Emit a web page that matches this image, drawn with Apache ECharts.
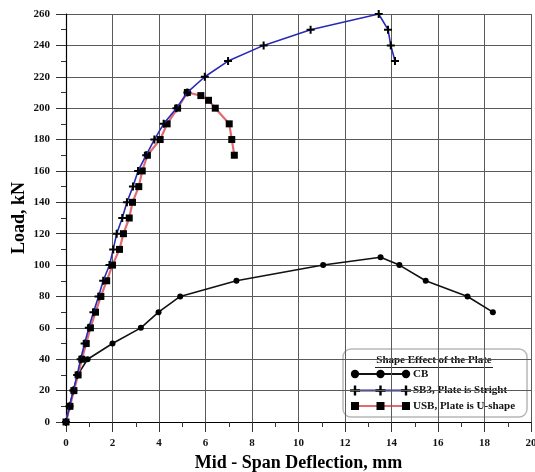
<!DOCTYPE html>
<html>
<head>
<meta charset="utf-8">
<script src="https://cdn.jsdelivr.net/npm/echarts@6/dist/echarts.min.js"></script>
<style>
  html, body { margin: 0; padding: 0; background: #fff; }
  #chart { width: 535px; height: 472px; }
</style>
</head>
<body>
<div id="chart"></div>
<script>
// Load–deflection curves for the three beams
const cbDeflection  = [0, 0.15, 0.32, 0.5, 0.93, 2.0, 3.22, 3.98, 4.91, 7.33, 11.06, 13.53, 14.34, 15.47, 17.27, 18.36];
const cbLoad        = [0, 10, 20, 30, 40, 50, 60, 70, 80, 90, 100, 105, 100, 90, 80, 70];

const sb3Deflection = [0, 0.15, 0.31, 0.48, 0.63, 0.8, 0.98, 1.18, 1.4, 1.6, 1.87, 2.03, 2.18, 2.42, 2.62, 2.88, 3.1, 3.45, 3.8, 4.2, 4.75, 5.22, 5.97, 6.97, 8.5, 10.52, 13.45, 13.85, 13.97, 14.15];
const sb3Load       = [0, 10, 20, 30, 40, 50, 60, 70, 80, 90, 100, 110, 120, 130, 140, 150, 160, 170, 180, 190, 200, 210, 220, 230, 240, 250, 260, 250, 240, 230];

const usbDeflection = [0, 0.17, 0.34, 0.52, 0.68, 0.87, 1.05, 1.27, 1.5, 1.75, 2.0, 2.3, 2.47, 2.72, 2.86, 3.13, 3.28, 3.5, 4.05, 4.35, 4.8, 5.22, 5.8, 6.13, 6.42, 7.02, 7.13, 7.24];
const usbLoad       = [0, 10, 20, 30, 40, 50, 60, 70, 80, 90, 100, 110, 120, 130, 140, 150, 160, 170, 180, 190, 200, 210, 208, 205, 200, 190, 180, 170];

const seriesNames = ['CB', 'SB3, Plate is Stright', 'USB, Plate is U-shape'];
const legendTitle = 'Shape Effect of the Plate';
const xTitle = 'Mid - Span Deflection, mm';
const yTitle = 'Load, kN';

const pairs = (xs, ys) => xs.map((x, i) => [x, ys[i]]);

const serif = '"Liberation Serif", "Times New Roman", serif';
const plusPath = 'path://M3,0H5V3H8V5H5V8H3V5H0V3H3Z';

const chart = echarts.init(document.getElementById('chart'), null, { renderer: 'canvas' });

// legend box drawn as a graphic group (three markers per sample line)
const lx0 = 355, lx1 = 406, lxm = (lx0 + lx1) / 2;
const rowY = [374, 390.5, 406];
function sample(y, lineColor, marker) {
  const els = [{ type: 'line', shape: { x1: lx0, y1: y, x2: lx1, y2: y }, style: { stroke: lineColor, lineWidth: 2 } }];
  [lx0, lxm, lx1].forEach(cx => {
    if (marker === 'circle') {
      els.push({ type: 'circle', shape: { cx: cx, cy: y, r: 4.2 }, style: { fill: '#000' } });
    } else if (marker === 'rect') {
      els.push({ type: 'rect', shape: { x: cx - 4, y: y - 4, width: 8, height: 8 }, style: { fill: '#000' } });
    } else {
      els.push({ type: 'rect', shape: { x: cx - 5, y: y - 1.2, width: 10, height: 2.4 }, style: { fill: '#000' } });
      els.push({ type: 'rect', shape: { x: cx - 1.2, y: y - 5, width: 2.4, height: 10 }, style: { fill: '#000' } });
    }
  });
  return els;
}
const legendFont = { fontFamily: serif, fontWeight: 'bold', fontSize: 11, fill: '#111' };
const legendEls = [
  { type: 'rect', shape: { x: 343, y: 349, width: 184, height: 68, r: 8 }, style: { fill: '#fff', stroke: '#b8b8b8', lineWidth: 1.5 } },
  { type: 'text', style: Object.assign({ text: legendTitle, x: 434, y: 360.5, align: 'center', verticalAlign: 'middle' }, legendFont) },
  { type: 'line', shape: { x1: 375, y1: 367.5, x2: 493, y2: 367.5 }, style: { stroke: '#222', lineWidth: 1 } }
]
  .concat(sample(rowY[0], '#111', 'circle'))
  .concat(sample(rowY[1], '#2a2ab8', 'plus'))
  .concat(sample(rowY[2], '#e36a72', 'rect'))
  .concat(seriesNames.map((n, i) => ({
    type: 'text', style: Object.assign({ text: n, x: 413, y: rowY[i], align: 'left', verticalAlign: 'middle' }, legendFont)
  })));

const axisCommon = {
  type: 'value',
  axisLine: { show: true, lineStyle: { color: '#000', width: 1.2 } },
  axisTick: { show: true, length: 10, lineStyle: { color: '#333', width: 1 } },
  minorTick: { show: true, splitNumber: 2, length: 5, lineStyle: { color: '#333', width: 1 } },
  splitLine: { show: true, lineStyle: { color: '#5a5a5a', width: 1 } },
  axisLabel: { fontFamily: serif, fontWeight: 'bold', fontSize: 11, color: '#111', margin: 16 },
  nameTextStyle: { fontFamily: serif, fontWeight: 'bold', color: '#000' }
};

chart.setOption({
  animation: false,
  backgroundColor: '#fff',
  grid: { left: 66, right: 4, top: 14, bottom: 50, containLabel: false, outerBoundsMode: 'none' },
  xAxis: Object.assign({}, axisCommon, {
    min: 0, max: 20, interval: 2,
    name: xTitle, nameLocation: 'middle', nameGap: 30,
    nameTextStyle: Object.assign({}, axisCommon.nameTextStyle, { fontSize: 18 })
  }),
  yAxis: Object.assign({}, axisCommon, {
    min: 0, max: 260, interval: 20,
    name: yTitle, nameLocation: 'middle', nameGap: 38, nameMoveOverlap: false,
    nameTextStyle: Object.assign({}, axisCommon.nameTextStyle, { fontSize: 18 })
  }),
  series: [
    {
      name: seriesNames[0], type: 'line', data: pairs(cbDeflection, cbLoad),
      symbol: 'circle', symbolSize: 6,
      lineStyle: { color: '#111', width: 1.6 },
      itemStyle: { color: '#000' }, z: 3
    },
    {
      name: seriesNames[2], type: 'line', data: pairs(usbDeflection, usbLoad),
      symbol: 'rect', symbolSize: 7,
      lineStyle: { color: '#e36a72', width: 2.2 },
      itemStyle: { color: '#000' }, z: 4
    },
    {
      name: seriesNames[1], type: 'line', data: pairs(sb3Deflection, sb3Load),
      symbol: plusPath, symbolSize: 8,
      lineStyle: { color: '#2a2ab8', width: 1.6 },
      itemStyle: { color: '#000' }, z: 5
    }
  ],
  graphic: { elements: [{ type: 'group', z: 100, children: legendEls }] }
});
</script>
</body>
</html>
